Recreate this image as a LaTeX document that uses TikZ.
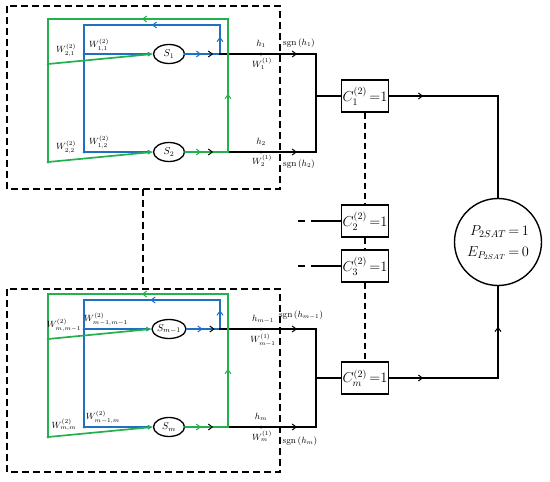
\documentclass[tikz,border=0pt]{standalone}
\usetikzlibrary{arrows.meta,decorations.markings,shapes.geometric}
\definecolor{wblue}{RGB}{31,112,193}
\definecolor{wgreen}{RGB}{34,177,76}
\begin{document}
\begin{tikzpicture}[x=1pt,y=-1pt,
    neuron/.style={ellipse, draw, line width=1.3pt, minimum width=31pt, minimum height=19pt, inner sep=0pt},
    cbox/.style={draw, line width=1.4pt, minimum width=47pt, minimum height=32pt, inner sep=0pt, font=\Large},
    wl/.style={font=\small, inner sep=0pt},
    bl/.style={wblue, line width=1.7pt, line cap=rect},
    gr/.style={wgreen, line width=1.7pt, line cap=rect},
    bk/.style={black, line width=1.5pt, line cap=rect},
    dbox/.style={line width=1.6pt, dash pattern=on 7pt off 4pt},
    mid/.style={postaction={decorate, decoration={markings, mark=at position #1 with {\arrow{Straight Barb[length=4pt,width=6pt,line width=1pt]}}}}},
    midk/.style={postaction={decorate, decoration={markings, mark=at position #1 with {\arrow{Straight Barb[length=4pt,width=6pt,line width=1pt,black]}}}}},
    tip/.style={-{Latex[length=5pt,width=4.5pt]}}]
    \useasboundingbox (0,0) rectangle (550,482);

    % upper block
    \node[neuron] (S1) at (169,54) {$S_1$};
    \node[neuron] (S2) at (169,152) {$S_2$};
    \coordinate (b1) at (84,54);  \coordinate (b2) at (84,152);
    \coordinate (g1) at (48,64);  \coordinate (g2) at (48,162);
    \coordinate (o1) at (220,54); \coordinate (o2) at (228,152);
    \coordinate (t1) at (316,54); \coordinate (t2) at (316,152);
    \coordinate (d1) at (261,54); \coordinate (d2) at (261,152);

    \draw[bl, tip, mid=16pt, mid=52pt, mid=132pt, midk=28pt] (S1.east) -- (o1) |- (84,25) -- (b2) -- (S2.west);
    \draw[bl, tip] (b1) -- (S1.west);
    \draw[bk, mid=77pt] (o1) -- (t1) -- (t2);
    \draw[bk, mid=69pt] (o2) -- (t2);
    \draw[gr, tip, mid=16pt, mid=101pt, mid=262pt, midk=28pt] (S2.east) -- (o2) |- (48,19) -- (g2) -- (S2.west);
    \draw[gr, tip] (g1) -- (S1.west);
    \fill[wblue] (b1) circle (1.5pt) (b2) circle (1.5pt);
    \fill[wgreen] (g1) circle (1.5pt) (g2) circle (1.5pt);
    \fill (d1) circle (1.5pt) (d2) circle (1.5pt);

    \node[wl] (w21) at (66,50) {$W^{(2)}_{2,1}$};
    \node[wl] (w11) at (99,45) {$W^{(2)}_{1,1}$};
    \node[wl] (w12) at (99,142) {$W^{(2)}_{1,2}$};
    \node[wl] (w22) at (66,147) {$W^{(2)}_{2,2}$};
    \node[wl] (h1) at (261,44) {$h_1$};
    \node[wl] (v1) at (262,64) {$W^{(1)}_1$};
    \node[wl] (h2) at (261,142) {$h_2$};
    \node[wl] (v2) at (262,161) {$W^{(1)}_2$};
    \node[font=\small] (sg1) at (299,43) {$\mathrm{sgn}\left(h_1\right)$};
    \node[font=\small] (sg2) at (299,164) {$\mathrm{sgn}\left(h_2\right)$};

    % lower block
    \node[neuron] (Sm1) at (169,329) {$S_{m-1}$};
    \node[neuron] (Sm) at (169,427) {$S_m$};
    \coordinate (b3) at (84,329);  \coordinate (b4) at (84,427);
    \coordinate (g3) at (48,339);  \coordinate (g4) at (48,437);
    \coordinate (o3) at (220,329); \coordinate (o4) at (228,427);
    \coordinate (t3) at (316,329); \coordinate (t4) at (316,427);
    \coordinate (d3) at (261,329); \coordinate (d4) at (261,427);

    \draw[bl, tip, mid=16pt, mid=52pt, mid=132pt, midk=28pt] (Sm1.east) -- (o3) |- (84,300) -- (b4) -- (Sm.west);
    \draw[bl, tip] (b3) -- (Sm1.west);
    \draw[bk, mid=77pt] (o3) -- (t3) -- (t4);
    \draw[bk, mid=69pt] (o4) -- (t4);
    \draw[gr, tip, mid=16pt, mid=101pt, mid=262pt, midk=28pt] (Sm.east) -- (o4) |- (48,294) -- (g4) -- (Sm.west);
    \draw[gr, tip] (g3) -- (Sm1.west);
    \fill[wblue] (b3) circle (1.5pt) (b4) circle (1.5pt);
    \fill[wgreen] (g3) circle (1.5pt) (g4) circle (1.5pt);
    \fill (d3) circle (1.5pt) (d4) circle (1.5pt);

    \node[wl] (wmm1) at (64,325) {$W^{(2)}_{m,m-1}$};
    \node[wl] (wm1m1) at (106,319) {$W^{(2)}_{m-1,m-1}$};
    \node[wl] (wm1m) at (103,417) {$W^{(2)}_{m-1,m}$};
    \node[wl] (wmm) at (64,425) {$W^{(2)}_{m,m}$};
    \node[wl] (h3) at (263,319) {$h_{m-1}$};
    \node[wl] (v3) at (263,340) {$W^{(1)}_{m-1}$};
    \node[wl] (h4) at (261,417) {$h_m$};
    \node[wl] (v4) at (262,436) {$W^{(1)}_m$};
    \node[font=\small] (sg3) at (301,315) {$\mathrm{sgn}\left(h_{m-1}\right)$};
    \node[font=\small] (sg4) at (300,441) {$\mathrm{sgn}\left(h_m\right)$};

    % clauses and output
    \node[cbox] (C1) at (365,96) {$C^{(2)}_1\,{=}1$};
    \node[cbox] (C2) at (365,221) {$C^{(2)}_2\,{=}1$};
    \node[cbox] (C3) at (365,266) {$C^{(2)}_3\,{=}1$};
    \node[cbox] (Cm) at (365,378) {$C^{(2)}_m\,{=}1$};
    \node[circle, draw, line width=1.4pt, minimum size=87pt, inner sep=0pt, font=\Large] (P) at (498,242)
        {$\begin{array}{r@{\,}l} P_{2SAT} & {=}\,1\\[3pt] E_{P_{2SAT}} & {=}\,0\end{array}$};
    \coordinate (c2l) at (298,221); \coordinate (c3l) at (298,266);

    \draw[bk] (C1.west) -- (C1.west -| t1);
    \draw[bk] (Cm.west) -- (Cm.west -| t3);
    \draw[bk, line cap=butt, dash pattern=on 7pt off 6pt on 40pt] (c2l) -- (C2.west);
    \draw[bk, line cap=butt, dash pattern=on 7pt off 6pt on 40pt] (c3l) -- (C3.west);
    \draw[bk, mid=34pt] (C1.east) -| (P.north);
    \draw[bk, mid=34pt, mid=160pt] (Cm.east) -| (P.south);
    \draw[line width=1.4pt, dash pattern=on 6pt off 4pt] (C1.south) -- (C2.north);
    \draw[line width=1.4pt, dash pattern=on 6pt off 4pt] (C2.south) -- (C3.north);
    \draw[line width=1.4pt, dash pattern=on 6pt off 4pt] (C3.south) -- (Cm.north);

    % dashed frames
    \draw[dbox] (7,6) rectangle (280,189);
    \draw[dbox] (7,289) rectangle (280,472);
    \draw[dbox] (143,189) -- (143,289);
\end{tikzpicture}
\end{document}
